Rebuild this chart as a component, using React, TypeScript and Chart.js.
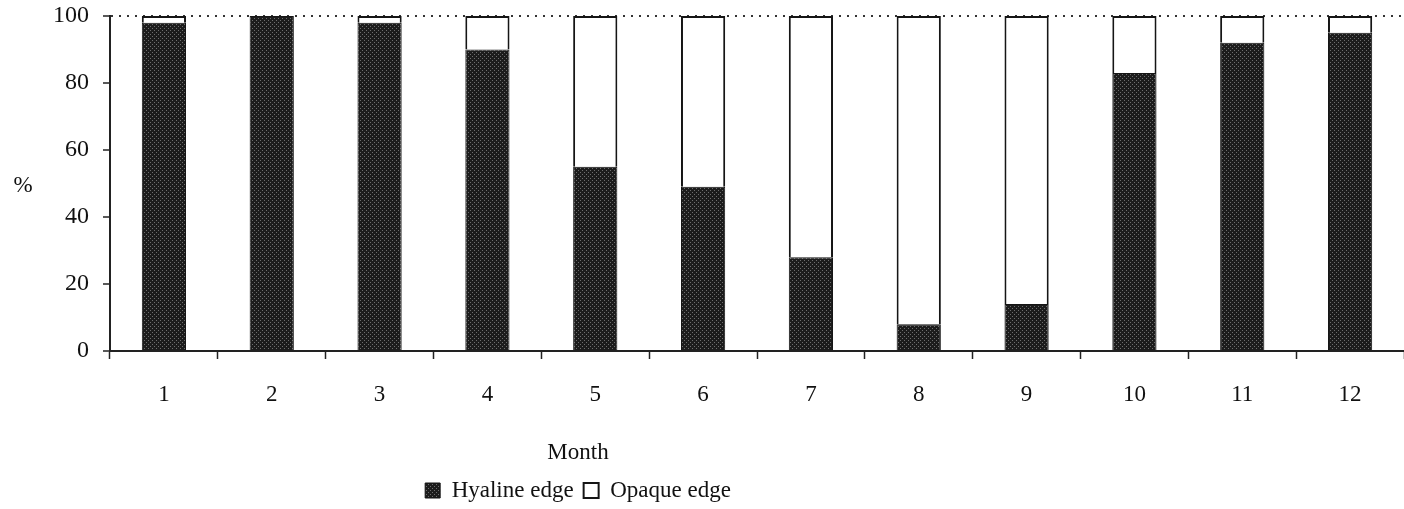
import React, { useEffect, useRef } from "react";
import { Chart, registerables } from "chart.js";

Chart.register(...registerables);

const months = ["1", "2", "3", "4", "5", "6", "7", "8", "9", "10", "11", "12"];
const hyaline = [98, 100, 98, 90, 55, 49, 28, 8, 14, 83, 92, 95];
const opaque = [2, 0, 2, 10, 45, 51, 72, 92, 86, 17, 8, 5];
const yTicks = [0, 20, 40, 60, 80, 100];

const FONT = "'Liberation Serif', 'DejaVu Serif', serif";

function makePattern(): CanvasPattern | string {
  const c = document.createElement("canvas");
  c.width = 4;
  c.height = 4;
  const g = c.getContext("2d");
  if (!g) return "#2a2a2a";
  g.fillStyle = "#1c1c1c";
  g.fillRect(0, 0, 4, 4);
  g.fillStyle = "#6e6e6e";
  g.fillRect(0, 0, 1, 1);
  g.fillRect(2, 2, 1, 1);
  const p = g.createPattern(c, "repeat");
  return p || "#2a2a2a";
}

const decorPlugin = {
  id: "decor",
  afterLayout(chart: any) {
    const lg = chart.legend;
    if (lg) {
      const center = 578;
      const half = 300;
      lg.left = center - half;
      lg.right = center + half;
      lg.width = half * 2;
      lg.top += 3;
      lg.bottom += 3;
    }
  },
  afterDraw(chart: any) {
    const ctx = chart.ctx;
    ctx.save();
    ctx.fillStyle = "#111";
    ctx.font = `23px ${FONT}`;
    ctx.textAlign = "center";
    ctx.textBaseline = "middle";
    ctx.fillText("%", 23, 186);
    ctx.restore();
  },
};

export default function App() {
  const ref = useRef<HTMLCanvasElement | null>(null);
  useEffect(() => {
    if (!ref.current) return;
    const pattern = makePattern();
    const chart = new Chart(ref.current, {
      type: "bar",
      data: {
        labels: months,
        datasets: [
          {
            label: "Hyaline edge",
            data: hyaline,
            backgroundColor: pattern as any,
            borderColor: "#151515",
            borderWidth: 1,
            barPercentage: 0.41,
            categoryPercentage: 1,
          },
          {
            label: "Opaque edge",
            data: opaque,
            backgroundColor: "#ffffff",
            borderColor: "#151515",
            borderWidth: 2,
            barPercentage: 0.41,
            categoryPercentage: 1,
          },
        ],
      },
      options: {
        responsive: false,
        animation: false,
        layout: { padding: { top: 16, right: 0, left: 0, bottom: 0 } },
        plugins: {
          tooltip: { enabled: false },
          legend: {
            position: "bottom",
            title: {
              display: true,
              text: "Month",
              color: "#111",
              font: { family: FONT, size: 23 },
              padding: { top: 0, bottom: 0 },
            },
            labels: {
              color: "#111",
              font: { family: FONT, size: 23 },
              boxWidth: 15,
              boxHeight: 15,
              padding: 10,
            },
          },
        },
        scales: {
          x: {
            stacked: true,
            grid: {
              offset: true,
              drawOnChartArea: false,
              drawTicks: true,
              tickLength: 8,
              tickColor: "#222",
              tickWidth: 1.5,
            },
            border: { display: true, color: "#222", width: 2 },
            ticks: {
              color: "#111",
              font: { family: FONT, size: 23 },
              padding: 22,
            },
            afterFit(s: any) {
              const lh = s.chart.legend ? s.chart.legend.height : 0;
              s.height = 509 - 351 - lh;
              s.paddingLeft = 0;
              s.paddingRight = 0;
            },
          },
          y: {
            stacked: true,
            min: 0,
            max: 100,
            afterBuildTicks(s: any) {
              s.ticks = yTicks.map((v) => ({ value: v }));
            },
            grid: {
              drawOnChartArea: true,
              color: (c: any) => (c.tick && c.tick.value === 100 ? "#333" : "rgba(0,0,0,0)"),
              lineWidth: 2,
              tickColor: "#222",
              tickLength: 7,
              tickWidth: 1.5,
            },
            border: { display: true, color: "#222", width: 2, dash: [2, 6] },
            ticks: {
              color: "#111",
              font: { family: FONT, size: 24 },
              padding: 14,
            },
            afterFit(s: any) {
              s.width = 110;
              s.paddingTop = 0;
              s.paddingBottom = 0;
            },
          },
        },
      },
      plugins: [decorPlugin],
    });
    return () => chart.destroy();
  }, []);
  return (
    <div style={{ position: "absolute", left: 0, top: 0, width: 1404, height: 509, background: "#fff" }}>
      <canvas ref={ref} width={1404} height={509} style={{ display: "block" }} />
    </div>
  );
}
